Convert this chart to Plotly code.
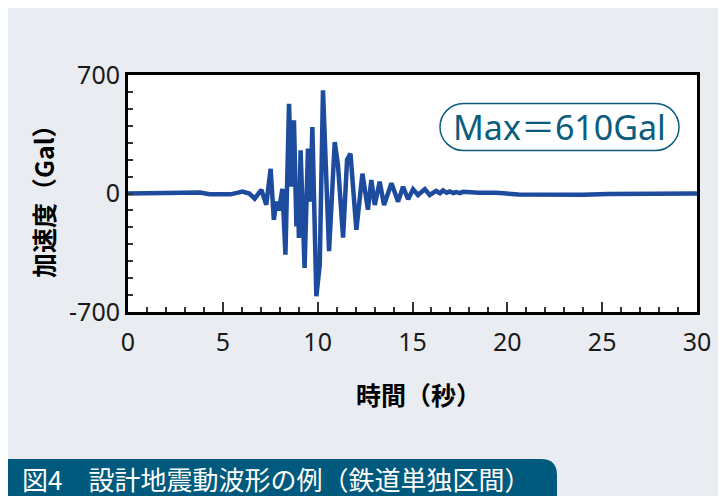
import plotly.graph_objects as go

# ---- data ----
time_s = [0, 1.0, 2.0, 3.0, 3.8, 4.3, 5.0, 5.4, 5.8, 6.03, 6.4, 6.68, 7.03, 7.29,
          7.52, 7.69, 7.82, 7.96, 8.14, 8.30, 8.49, 8.61, 8.75, 8.88, 8.96, 9.01,
          9.10, 9.31, 9.49, 9.61, 9.72, 9.93, 10.11, 10.28, 10.60, 10.90, 11.07,
          11.34, 11.55, 11.73, 12.04, 12.36, 12.65, 12.83, 13.01, 13.27, 13.50,
          13.89, 14.24, 14.50, 14.77, 15.03, 15.29, 15.65, 15.91, 16.25, 16.45,
          16.61, 16.80, 16.97, 17.15, 17.3, 17.5, 17.67, 18.5, 19.4, 20.6, 22.0,
          24.0, 25.3, 27.0, 30.0]
accel_gal = [0, 2, 5, 8, 6, -4, -8, -5, 5, 12, 0, -30, 22, -66,
             146, -155, -48, -100, 28, -361, 530, 40, 432, -194, 31, -263,
             255, -440, 265, -48, 393, -607, -422, 610, -341, 304, 170,
             -260, 200, 235, -214, 117, -96, 80, -68, 70, -68,
             60, -48, 40, -34, 25, -9, 25, -9, 15, 2,
             18, 4, 12, 3, 8, 2, 10, 5, 5, -6, -8,
             -7, -3, 0, 0]

x_range = [0, 30]
y_range = [-700, 700]
y_tickvals = [-700, 0, 700]
y_ticktext = ["-700", "0", "700"]
x_title = "時間（秒）"
y_title = "加速度（Gal）"
max_label = "Max＝610Gal"
caption = "図4　設計地震動波形の例（鉄道単独区間）"

# ---- layout geometry (screen pixels; the page body adds an 8 px offset) ----
W, H = 726, 496
OFF = 8
SL, SR, ST, SB = 128, 697, 75, 312          # plot frame on screen
L, T = SL - OFF, ST - OFF
R, B = W - (SR - OFF), H - (SB - OFF)
PW, PH = W - L - R, H - T - B

def px(xs):
    return (xs - OFF - L) / PW

def py(ys):
    return 1 - (ys - OFF - T) / PH

BG = "#e9ecf1"
LINE = "#1d4b9e"
TEAL = "#0b5d7d"
BAR = "#005a7d"

fig = go.Figure()
fig.add_trace(go.Scatter(x=time_s, y=accel_gal, mode="lines",
                         line=dict(color=LINE, width=4.5), hoverinfo="skip"))

tickfont = dict(family="Noto Sans, DejaVu Sans", size=25, color="#1a1a1a")
fig.update_xaxes(range=x_range, dtick=5, tick0=0, showgrid=False, zeroline=False,
                 showline=True, linecolor="black", linewidth=3, mirror=True,
                 ticks="inside", ticklen=10, tickwidth=1.5, tickcolor="#333",
                 minor=dict(dtick=1, ticks="inside", ticklen=5, tickwidth=1.5,
                            tickcolor="#333", showgrid=False),
                 tickfont=tickfont, ticklabelstandoff=6)
fig.update_yaxes(range=y_range, tickmode="array", tickvals=y_tickvals, ticktext=y_ticktext,
                 showgrid=False, zeroline=False,
                 showline=True, linecolor="black", linewidth=3, mirror=True,
                 ticks="inside", ticklen=5, tickwidth=1.5, tickcolor="#333",
                 minor=dict(tick0=0, dtick=100, ticks="inside", ticklen=5, tickwidth=1.5,
                            tickcolor="#333", showgrid=False),
                 tickfont=tickfont)

# stadium box around max label
bx0, bx1, by0, by1 = 440, 679, 103.5, 150.5
r = (by1 - by0) / 2
k = 0.552 * r
path = (f"M {px(bx0 + r)} {py(by0)} L {px(bx1 - r)} {py(by0)} "
        f"C {px(bx1 - r + k)} {py(by0)} {px(bx1)} {py(by0 + r - k)} {px(bx1)} {py(by0 + r)} "
        f"C {px(bx1)} {py(by0 + r + k)} {px(bx1 - r + k)} {py(by1)} {px(bx1 - r)} {py(by1)} "
        f"L {px(bx0 + r)} {py(by1)} "
        f"C {px(bx0 + r - k)} {py(by1)} {px(bx0)} {py(by1 - r + k)} {px(bx0)} {py(by1 - r)} "
        f"C {px(bx0)} {py(by0 + r - k)} {px(bx0 + r - k)} {py(by0)} {px(bx0 + r)} {py(by0)} Z")
fig.add_shape(type="path", path=path, xref="paper", yref="paper",
              line=dict(color=TEAL, width=1.5), fillcolor="white", layer="above")

# caption bar with rounded top-right corner
cx0, cx1, cy0, cy1 = 8, 557, 459, 510
cr = 16
bar_path = (f"M {px(cx0)} {py(cy1)} L {px(cx0)} {py(cy0)} L {px(cx1 - cr)} {py(cy0)} "
            f"Q {px(cx1)} {py(cy0)} {px(cx1)} {py(cy0 + cr)} L {px(cx1)} {py(cy1)} Z")
fig.add_shape(type="path", path=bar_path, xref="paper", yref="paper",
              line=dict(width=0), fillcolor=BAR, layer="below")

fig.add_annotation(x=px(559.5), y=py(127), xref="paper", yref="paper",
                   text=max_label, showarrow=False, xanchor="center", yanchor="middle",
                   font=dict(family="Noto Sans, Noto Sans CJK JP", size=34, color=TEAL))
fig.add_annotation(x=px(418), y=py(394), xref="paper", yref="paper",
                   text=x_title, showarrow=False, xanchor="center", yanchor="middle",
                   font=dict(family="Noto Sans CJK JP", size=25, color="black", weight="bold"))
fig.add_annotation(x=px(43), y=py(195), xref="paper", yref="paper",
                   text=y_title, showarrow=False, xanchor="center", yanchor="middle",
                   textangle=-90,
                   font=dict(family="Noto Sans CJK JP", size=25, color="black", weight="bold"))
fig.add_annotation(x=px(20), y=py(478), xref="paper", yref="paper",
                   text=caption, showarrow=False, xanchor="left", yanchor="middle",
                   font=dict(family="Noto Sans CJK JP", size=26, color="white"))

fig.update_layout(width=W, height=H, margin=dict(l=L, r=R, t=T, b=B, autoexpand=False),
                  paper_bgcolor=BG, plot_bgcolor="white", showlegend=False)

fig.write_html("out.html")
